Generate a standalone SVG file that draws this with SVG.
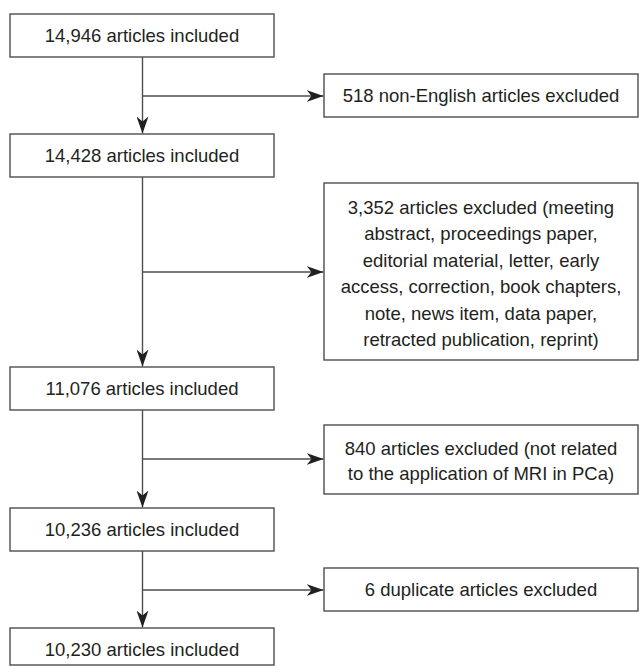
<svg xmlns="http://www.w3.org/2000/svg" width="639" height="666" viewBox="0 0 639 666">
<style>
.box{fill:#fff;stroke:#4d4d4d;stroke-width:1.4}
.t{font-family:"Liberation Sans",Arial,sans-serif;font-size:18.5px;fill:#231f20;text-anchor:middle}
.c{fill:none;stroke:#4d4d4d;stroke-width:1.4}
</style>
<defs>
<marker id="ah" markerUnits="userSpaceOnUse" markerWidth="18" markerHeight="12" refX="17" refY="6" orient="auto">
<path d="M0,0 L17,6 L0,12 L5,6 Z" fill="#231f20"/>
</marker>
</defs>
<rect width="639" height="666" fill="#fff"/>
<g id="connectors">
<line class="c" x1="142.5" y1="57" x2="142.5" y2="133.5" marker-end="url(#ah)"/>
<line class="c" x1="142.5" y1="96" x2="323.5" y2="96" marker-end="url(#ah)"/>
<line class="c" x1="142.5" y1="177" x2="142.5" y2="366.5" marker-end="url(#ah)"/>
<line class="c" x1="142.5" y1="272" x2="323.5" y2="272" marker-end="url(#ah)"/>
<line class="c" x1="142.5" y1="410" x2="142.5" y2="507.5" marker-end="url(#ah)"/>
<line class="c" x1="142.5" y1="459" x2="323.5" y2="459" marker-end="url(#ah)"/>
<line class="c" x1="142.5" y1="551" x2="142.5" y2="627.5" marker-end="url(#ah)"/>
<line class="c" x1="142.5" y1="590" x2="323.5" y2="590" marker-end="url(#ah)"/>
</g>
<g id="n1"><rect class="box" x="10" y="14" width="264" height="43"/><text class="t" x="142" y="42">14,946 articles included</text></g>
<g id="x1"><rect class="box" x="324" y="74" width="314" height="43"/><text class="t" x="481" y="102">518 non-English articles excluded</text></g>
<g id="n2"><rect class="box" x="10" y="134" width="264" height="43"/><text class="t" x="142" y="162">14,428 articles included</text></g>
<g id="x2"><rect class="box" x="324" y="183" width="314" height="177"/>
<text class="t" x="481" y="213.5">3,352 articles excluded (meeting</text>
<text class="t" x="481" y="240">abstract, proceedings paper,</text>
<text class="t" x="481" y="266.5">editorial material, letter, early</text>
<text class="t" x="481" y="293">access, correction, book chapters,</text>
<text class="t" x="481" y="319.5">note, news item, data paper,</text>
<text class="t" x="481" y="346">retracted publication, reprint)</text>
</g>
<g id="n3"><rect class="box" x="10" y="367" width="264" height="43"/><text class="t" x="142" y="395">11,076 articles included</text></g>
<g id="x3"><rect class="box" x="324" y="425" width="314" height="69"/>
<text class="t" x="481" y="454.5">840 articles excluded (not related</text>
<text class="t" x="481" y="479.5">to the application of MRI in PCa)</text>
</g>
<g id="n4"><rect class="box" x="10" y="508" width="264" height="43"/><text class="t" x="142" y="536">10,236 articles included</text></g>
<g id="x4"><rect class="box" x="324" y="568" width="314" height="43"/><text class="t" x="481" y="596">6 duplicate articles excluded</text></g>
<g id="n5"><rect class="box" x="10" y="628" width="264" height="37"/><text class="t" x="142" y="656">10,230 articles included</text></g>
</svg>
